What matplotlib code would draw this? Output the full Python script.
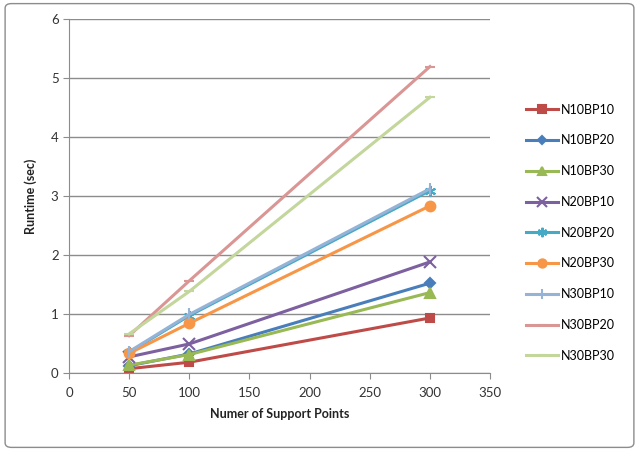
import matplotlib
matplotlib.use('Agg')
import matplotlib.pyplot as plt
from matplotlib.patches import FancyBboxPatch

plt.rcParams['font.family'] = ['Lato', 'DejaVu Sans']

support_points = [50, 100, 300]
series_names = ['N10BP10', 'N10BP20', 'N10BP30', 'N20BP10', 'N20BP20',
                'N20BP30', 'N30BP10', 'N30BP20', 'N30BP30']
n10bp10 = [0.08, 0.19, 0.94]
n10bp20 = [0.13, 0.33, 1.53]
n10bp30 = [0.14, 0.32, 1.37]
n20bp10 = [0.28, 0.50, 1.89]
n20bp20 = [0.36, 0.98, 3.10]
n20bp30 = [0.34, 0.85, 2.84]
n30bp10 = [0.37, 1.00, 3.13]
n30bp20 = [0.64, 1.57, 5.20]
n30bp30 = [0.67, 1.39, 4.68]
all_values = [n10bp10, n10bp20, n10bp30, n20bp10, n20bp20,
              n20bp30, n30bp10, n30bp20, n30bp30]

colors = ['#BE4B48', '#4A7EBB', '#98B954', '#7D60A0', '#46AAC5',
          '#F79646', '#95B3D7', '#D99694', '#C3D69B']
markers = ['s', 'D', '^', 'x', (6, 2, 0), 'o', '|', '_', '_']
msizes = [6, 5, 7, 8, 8, 7, 9, 7, 7]

fig = plt.figure(figsize=(6.39, 4.51), dpi=100)
ax = fig.add_axes([0.108, 0.172, 0.659, 0.785])

for vals, name, c, m, ms in zip(all_values, series_names, colors, markers, msizes):
    ax.plot(support_points, vals, color=c, marker=m, markersize=ms, linewidth=2.2,
            markeredgecolor=c, markerfacecolor=c, markeredgewidth=1.5, label=name)

ax.set_xlim(0, 350)
ax.set_ylim(0, 6)
ax.set_xticks(range(0, 351, 50))
ax.set_yticks(range(0, 7))
ax.yaxis.grid(True, color='#8c8c8c', linewidth=1)
ax.set_axisbelow(True)
for s in ['top', 'right']:
    ax.spines[s].set_visible(False)
for s in ['left', 'bottom']:
    ax.spines[s].set_color('#8c8c8c')
ax.tick_params(colors='#8c8c8c', labelcolor='#333333', labelsize=9.5, length=4)
ax.tick_params(axis='x', pad=6)
ax.set_xlabel('Numer of Support Points', fontsize=9, fontweight='bold', color='#222222', labelpad=6)
ax.set_ylabel('Runtime (sec)', fontsize=9, fontweight='bold', color='#222222', labelpad=10)

leg = fig.legend(loc='upper left', bbox_to_anchor=(0.805, 0.795), frameon=False,
                 fontsize=9, handlelength=2.6, labelspacing=1.5, handletextpad=0.2,
                 markerscale=0.85)

border = FancyBboxPatch((0.008, 0.008), 0.984, 0.984, boxstyle='round,pad=0,rounding_size=0.01',
                        transform=fig.transFigure, fill=False, edgecolor='#8c8c8c', linewidth=1)
fig.patches.append(border)

fig.savefig('out.png', dpi=100)
